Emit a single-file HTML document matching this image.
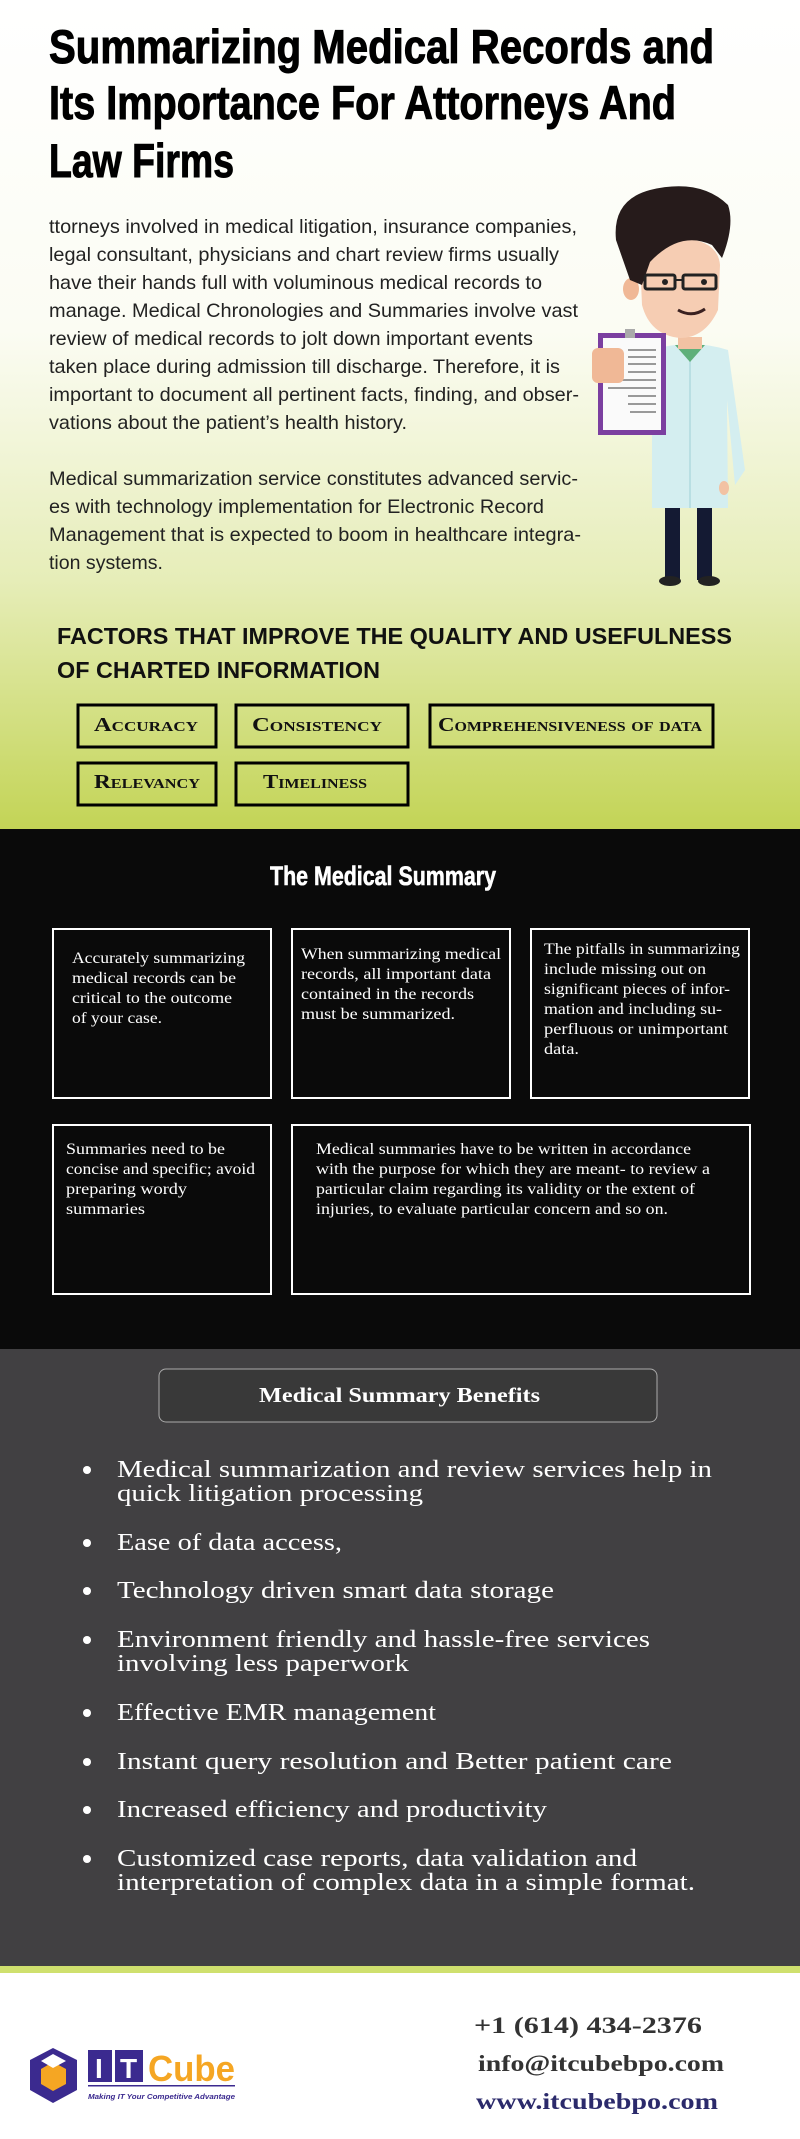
<!DOCTYPE html>
<html><head><meta charset="utf-8"><style>
html,body{margin:0;padding:0;}
svg{display:block;}
</style></head><body>
<svg width="800" height="2139" viewBox="0 0 800 2139" xmlns="http://www.w3.org/2000/svg">
<defs>
<linearGradient id="g1" x1="0" y1="0" x2="0" y2="1">
<stop offset="0" stop-color="#ffffff"/>
<stop offset="0.4" stop-color="#fbfcf3"/>
<stop offset="0.7" stop-color="#e6edb8"/>
<stop offset="1" stop-color="#c3d456"/>
</linearGradient>
</defs>
<rect x="0" y="0" width="800" height="829" fill="url(#g1)"/>
<rect x="0" y="829" width="800" height="520" fill="#0a0a0a"/>
<rect x="0" y="1349" width="800" height="617" fill="#414042"/>
<rect x="0" y="1966" width="800" height="7" fill="#cfe06e"/>
<rect x="0" y="1973" width="800" height="166" fill="#ffffff"/>

<!-- Title -->
<g font-family="'Liberation Sans',sans-serif" font-weight="bold" font-size="47" fill="#000" stroke="#000" stroke-width="1">
<text x="49" y="63" textLength="665" lengthAdjust="spacingAndGlyphs">Summarizing Medical Records and</text>
<text x="49" y="119" textLength="627" lengthAdjust="spacingAndGlyphs">Its Importance For Attorneys And</text>
<text x="49" y="177" textLength="185" lengthAdjust="spacingAndGlyphs">Law Firms</text>
</g>

<!-- Paragraphs -->
<g font-family="'Liberation Sans',sans-serif" font-size="19.5" fill="#222">
<text x="49" y="233" textLength="528" lengthAdjust="spacingAndGlyphs">ttorneys involved in medical litigation, insurance companies,</text>
<text x="49" y="261" textLength="510" lengthAdjust="spacingAndGlyphs">legal consultant, physicians and chart review firms usually</text>
<text x="49" y="289" textLength="493" lengthAdjust="spacingAndGlyphs">have their hands full with voluminous medical records to</text>
<text x="49" y="317" textLength="529" lengthAdjust="spacingAndGlyphs">manage. Medical Chronologies and Summaries involve vast</text>
<text x="49" y="345" textLength="484" lengthAdjust="spacingAndGlyphs">review of medical records to jolt down important events</text>
<text x="49" y="373" textLength="511" lengthAdjust="spacingAndGlyphs">taken place during admission till discharge. Therefore, it is</text>
<text x="49" y="401" textLength="530" lengthAdjust="spacingAndGlyphs">important to document all pertinent facts, finding, and obser-</text>
<text x="49" y="429" textLength="358" lengthAdjust="spacingAndGlyphs">vations about the patient’s health history.</text>
<text x="49" y="485" textLength="529" lengthAdjust="spacingAndGlyphs">Medical summarization service constitutes advanced servic-</text>
<text x="49" y="513" textLength="495" lengthAdjust="spacingAndGlyphs">es with technology implementation for Electronic Record</text>
<text x="49" y="541" textLength="532" lengthAdjust="spacingAndGlyphs">Management that is expected to boom in healthcare integra-</text>
<text x="49" y="569" textLength="114" lengthAdjust="spacingAndGlyphs">tion systems.</text>
</g>

<!-- Doctor -->
<g>
<rect x="665" y="500" width="15" height="80" fill="#141a33"/>
<rect x="697" y="500" width="15" height="80" fill="#141a33"/>
<ellipse cx="670" cy="581" rx="11" ry="5" fill="#222"/>
<ellipse cx="709" cy="581" rx="11" ry="5" fill="#222"/>
<path d="M652 350 Q690 338 728 350 L745 470 L735 485 L727 400 L728 508 L652 508 Z" fill="#d4eef0"/>
<path d="M690 350 L690 508" stroke="#b9dfe3" stroke-width="2"/>
<path d="M675 345 L705 345 L690 362 Z" fill="#5fb07a"/>
<ellipse cx="724" cy="488" rx="5" ry="7" fill="#f2c2a3"/>
<rect x="678" y="337" width="24" height="12" fill="#f2c2a3"/>
<ellipse cx="631" cy="289" rx="8" ry="11" fill="#f0b896"/>
<path d="M640 258 Q640 240 680 238 Q718 240 720 265 L718 310 Q705 338 680 338 Q650 335 642 305 Z" fill="#f6cdb3"/>
<path d="M616 240 Q612 200 650 190 Q700 178 728 205 Q735 225 722 258 L712 245 Q680 230 650 262 L642 285 L630 280 Z" fill="#261b1b"/>
<rect x="645" y="275" width="30" height="14" rx="2" fill="none" stroke="#222" stroke-width="3"/>
<rect x="683" y="275" width="33" height="14" rx="2" fill="none" stroke="#222" stroke-width="3"/>
<line x1="675" y1="280" x2="683" y2="280" stroke="#222" stroke-width="2"/>
<circle cx="665" cy="282" r="3" fill="#222"/><circle cx="704" cy="282" r="3" fill="#222"/>
<path d="M678 310 Q692 318 705 309" stroke="#3a2020" stroke-width="3" fill="none"/>
<rect x="598" y="333" width="68" height="102" fill="#7b3fa0"/>
<rect x="603" y="338" width="58" height="92" fill="#fafafa"/>
<rect x="625" y="329" width="10" height="9" fill="#aaa"/>
<g stroke="#999" stroke-width="2">
<line x1="628" y1="350" x2="656" y2="350"/><line x1="628" y1="357" x2="656" y2="357"/><line x1="628" y1="364" x2="656" y2="364"/><line x1="628" y1="372" x2="656" y2="372"/><line x1="620" y1="380" x2="656" y2="380"/><line x1="608" y1="388" x2="656" y2="388"/><line x1="628" y1="396" x2="656" y2="396"/><line x1="628" y1="404" x2="656" y2="404"/><line x1="630" y1="412" x2="656" y2="412"/>
</g>
<rect x="592" y="348" width="32" height="35" rx="6" fill="#f0b896"/>
</g>

<!-- Factors -->
<g font-family="'Liberation Sans',sans-serif" font-weight="bold" font-size="23" fill="#111">
<text x="57" y="644" textLength="675" lengthAdjust="spacingAndGlyphs">FACTORS THAT IMPROVE THE QUALITY AND USEFULNESS</text>
<text x="57" y="678" textLength="323" lengthAdjust="spacingAndGlyphs">OF CHARTED INFORMATION</text>
</g>
<g fill="none" stroke="#000" stroke-width="3">
<rect x="78" y="705" width="138" height="42"/>
<rect x="236" y="705" width="172" height="42"/>
<rect x="430" y="705" width="283" height="42"/>
<rect x="78" y="763" width="138" height="42"/>
<rect x="236" y="763" width="172" height="42"/>
</g>
<g font-family="'Liberation Serif',serif" font-weight="bold" font-size="20" fill="#111" style="font-variant:small-caps">
<text x="94" y="731" textLength="104" lengthAdjust="spacingAndGlyphs">Accuracy</text>
<text x="252" y="731" textLength="130" lengthAdjust="spacingAndGlyphs">Consistency</text>
<text x="438" y="731" textLength="264" lengthAdjust="spacingAndGlyphs">Comprehensiveness of data</text>
<text x="94" y="788" textLength="106" lengthAdjust="spacingAndGlyphs">Relevancy</text>
<text x="263" y="788" textLength="104" lengthAdjust="spacingAndGlyphs">Timeliness</text>
</g>

<!-- Medical summary -->
<text x="270" y="885" textLength="226" lengthAdjust="spacingAndGlyphs" font-family="'Liberation Sans',sans-serif" font-weight="bold" font-size="27" fill="#fff" stroke="#fff" stroke-width="0.6">The Medical Summary</text>
<g fill="none" stroke="#fff" stroke-width="2">
<rect x="53" y="929" width="218" height="169"/>
<rect x="292" y="929" width="218" height="169"/>
<rect x="531" y="929" width="218" height="169"/>
<rect x="53" y="1125" width="218" height="169"/>
<rect x="292" y="1125" width="458" height="169"/>
</g>
<g font-family="'Liberation Serif',serif" font-size="15.5" fill="#fff">
<text x="72" y="963" textLength="173" lengthAdjust="spacingAndGlyphs">Accurately summarizing</text>
<text x="72" y="983" textLength="164" lengthAdjust="spacingAndGlyphs">medical records can be</text>
<text x="72" y="1003" textLength="160" lengthAdjust="spacingAndGlyphs">critical to the outcome</text>
<text x="72" y="1023" textLength="90" lengthAdjust="spacingAndGlyphs">of your case.</text>
<text x="301" y="959" textLength="200" lengthAdjust="spacingAndGlyphs">When summarizing medical</text>
<text x="301" y="979" textLength="190" lengthAdjust="spacingAndGlyphs">records, all important data</text>
<text x="301" y="999" textLength="173" lengthAdjust="spacingAndGlyphs">contained in the records</text>
<text x="301" y="1019" textLength="154" lengthAdjust="spacingAndGlyphs">must be summarized.</text>
<text x="544" y="954" textLength="196" lengthAdjust="spacingAndGlyphs">The pitfalls in summarizing</text>
<text x="544" y="974" textLength="162" lengthAdjust="spacingAndGlyphs">include missing out on</text>
<text x="544" y="994" textLength="186" lengthAdjust="spacingAndGlyphs">significant pieces of infor-</text>
<text x="544" y="1014" textLength="178" lengthAdjust="spacingAndGlyphs">mation and including su-</text>
<text x="544" y="1034" textLength="184" lengthAdjust="spacingAndGlyphs">perfluous or unimportant</text>
<text x="544" y="1054" textLength="35" lengthAdjust="spacingAndGlyphs">data.</text>
<text x="66" y="1154" textLength="159" lengthAdjust="spacingAndGlyphs">Summaries need to be</text>
<text x="66" y="1174" textLength="189" lengthAdjust="spacingAndGlyphs">concise and specific; avoid</text>
<text x="66" y="1194" textLength="121" lengthAdjust="spacingAndGlyphs">preparing wordy</text>
<text x="66" y="1214" textLength="79" lengthAdjust="spacingAndGlyphs">summaries</text>
<text x="316" y="1154" textLength="375" lengthAdjust="spacingAndGlyphs">Medical summaries have to be written in accordance</text>
<text x="316" y="1174" textLength="394" lengthAdjust="spacingAndGlyphs">with the purpose for which they are meant- to review a</text>
<text x="316" y="1194" textLength="379" lengthAdjust="spacingAndGlyphs">particular claim regarding its validity or the extent of</text>
<text x="316" y="1214" textLength="352" lengthAdjust="spacingAndGlyphs">injuries, to evaluate particular concern and so on.</text>
</g>

<!-- Benefits -->
<rect x="159" y="1369" width="498" height="53" rx="7" fill="#393939" stroke="#aaa" stroke-width="1"/>
<text x="259" y="1402" textLength="281" lengthAdjust="spacingAndGlyphs" font-family="'Liberation Serif',serif" font-weight="bold" font-size="21" fill="#fff">Medical Summary Benefits</text>
<g fill="#fff">
<circle cx="87" cy="1470" r="4"/><circle cx="87" cy="1543" r="4"/><circle cx="87" cy="1591" r="4"/><circle cx="87" cy="1640" r="4"/><circle cx="87" cy="1713" r="4"/><circle cx="87" cy="1762" r="4"/><circle cx="87" cy="1810" r="4"/><circle cx="87" cy="1859" r="4"/>
</g>
<g font-family="'Liberation Serif',serif" font-size="24" fill="#fff">
<text x="117" y="1477" textLength="595" lengthAdjust="spacingAndGlyphs">Medical summarization and review services help in</text>
<text x="117" y="1501" textLength="306" lengthAdjust="spacingAndGlyphs">quick litigation processing</text>
<text x="117" y="1550" textLength="225" lengthAdjust="spacingAndGlyphs">Ease of data access,</text>
<text x="117" y="1598" textLength="437" lengthAdjust="spacingAndGlyphs">Technology driven smart data storage</text>
<text x="117" y="1647" textLength="533" lengthAdjust="spacingAndGlyphs">Environment friendly and hassle-free services</text>
<text x="117" y="1671" textLength="292" lengthAdjust="spacingAndGlyphs">involving less paperwork</text>
<text x="117" y="1720" textLength="319" lengthAdjust="spacingAndGlyphs">Effective EMR management</text>
<text x="117" y="1769" textLength="555" lengthAdjust="spacingAndGlyphs">Instant query resolution and Better patient care</text>
<text x="117" y="1817" textLength="430" lengthAdjust="spacingAndGlyphs">Increased efficiency and productivity</text>
<text x="117" y="1866" textLength="520" lengthAdjust="spacingAndGlyphs">Customized case reports, data validation and</text>
<text x="117" y="1890" textLength="578" lengthAdjust="spacingAndGlyphs">interpretation of complex data in a simple format.</text>
</g>

<!-- Footer -->
<g font-family="'Liberation Serif',serif" font-weight="bold" font-size="23">
<text x="474" y="2033" textLength="228" lengthAdjust="spacingAndGlyphs" fill="#333">+1 (614) 434-2376</text>
<text x="478" y="2071" textLength="246" lengthAdjust="spacingAndGlyphs" fill="#333">info@itcubebpo.com</text>
<text x="476" y="2109" textLength="242" lengthAdjust="spacingAndGlyphs" fill="#2b2a6b">www.itcubebpo.com</text>
</g>
<g>
<polygon points="53,2048 77,2060 77,2090 53,2103 30,2090 30,2060" fill="#3b2a8f"/>
<polygon points="53,2062 66,2069 66,2084 53,2091 41,2084 41,2069" fill="#f5a623"/>
<polygon points="53,2054 66,2061 53,2068 41,2061" fill="#fff"/>
<rect x="88" y="2050" width="24" height="32" fill="#3b2a8f"/>
<rect x="115" y="2050" width="28" height="32" fill="#3b2a8f"/>
<text x="95" y="2078" font-family="'Liberation Sans',sans-serif" font-weight="bold" font-size="28" fill="#fff">I</text>
<text x="120" y="2078" font-family="'Liberation Sans',sans-serif" font-weight="bold" font-size="28" fill="#fff">T</text>
<text x="148" y="2081" textLength="87" lengthAdjust="spacingAndGlyphs" font-family="'Liberation Sans',sans-serif" font-weight="bold" font-size="36" fill="#f5a623">Cube</text>
<rect x="88" y="2085" width="147" height="1.5" fill="#3b2a8f"/>
<text x="88" y="2099" textLength="147" lengthAdjust="spacingAndGlyphs" font-family="'Liberation Sans',sans-serif" font-style="italic" font-weight="bold" font-size="7.5" fill="#3b2a8f">Making IT Your Competitive Advantage</text>
</g>
</svg>
</body></html>
